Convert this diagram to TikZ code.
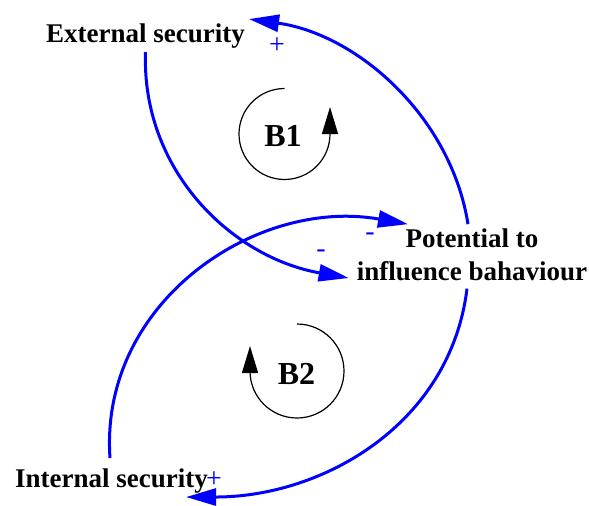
\documentclass[tikz,border=0pt]{standalone}
\usepackage{fontspec}
\setmainfont{Liberation Serif}
\usetikzlibrary{arrows.meta}
\begin{document}
\begin{tikzpicture}[x=1pt,y=1pt,
  var/.style={font=\bfseries\fontsize{27}{33}\selectfont, inner sep=4pt, align=center},
  looplbl/.style={font=\bfseries\fontsize{32}{36}\selectfont, inner sep=0pt},
  pol/.style={font=\fontsize{28}{28}\selectfont, text=blue, inner sep=0pt},
  link/.style={draw=blue, line width=3pt, -{Triangle[length=30pt,width=17pt]}},
  loopar/.style={draw=black, line width=1.2pt, -{Triangle[length=27pt,width=16pt]}}
]
\useasboundingbox (0,0) rectangle (589,-506);
\node[var, anchor=base] (ext) at (145.5,-42) {External security};
\node[var] (pot) at (472,-254.4) {Potential to\\influence bahaviour};
\node[var, anchor=base] (int) at (111.5,-487) {Internal security};
\node[looplbl, anchor=base] (b1) at (283,-146) {B1};
\node[looplbl, anchor=base] (b2) at (296.5,-384) {B2};
\node[pol] (p1) at (277,-46) {+};
\node[pol] (m1) at (321,-254) {-};
\node[pol] (m2) at (370,-237) {-};
\node[pol] (p2) at (214,-480) {+};
\draw[loopar] (284.5,-88.5) arc[start angle=90, end angle=360, radius=45.5] -- ++(0,27);
\draw[loopar] (297,-324) arc[start angle=90, end angle=-180, radius=47] -- ++(0,25);
\draw[link] ([xshift=-4pt]pot.north) to[out=99, in=-8, looseness=0.93] (ext.north east);
\draw[link] (ext.south) to[out=-92, in=170] ([shift={(-4pt,-23.6pt)}]pot.west);
\draw[link] ([shift={(-1.5pt,6pt)}]int.north) to[out=94, in=170, looseness=1.05] ([xshift=-64pt]pot.north);
\draw[link] ([shift={(-5pt,-4pt)}]pot.south) to[out=-97, in=0] ([xshift=-26pt]int.south east);
\end{tikzpicture}
\end{document}
